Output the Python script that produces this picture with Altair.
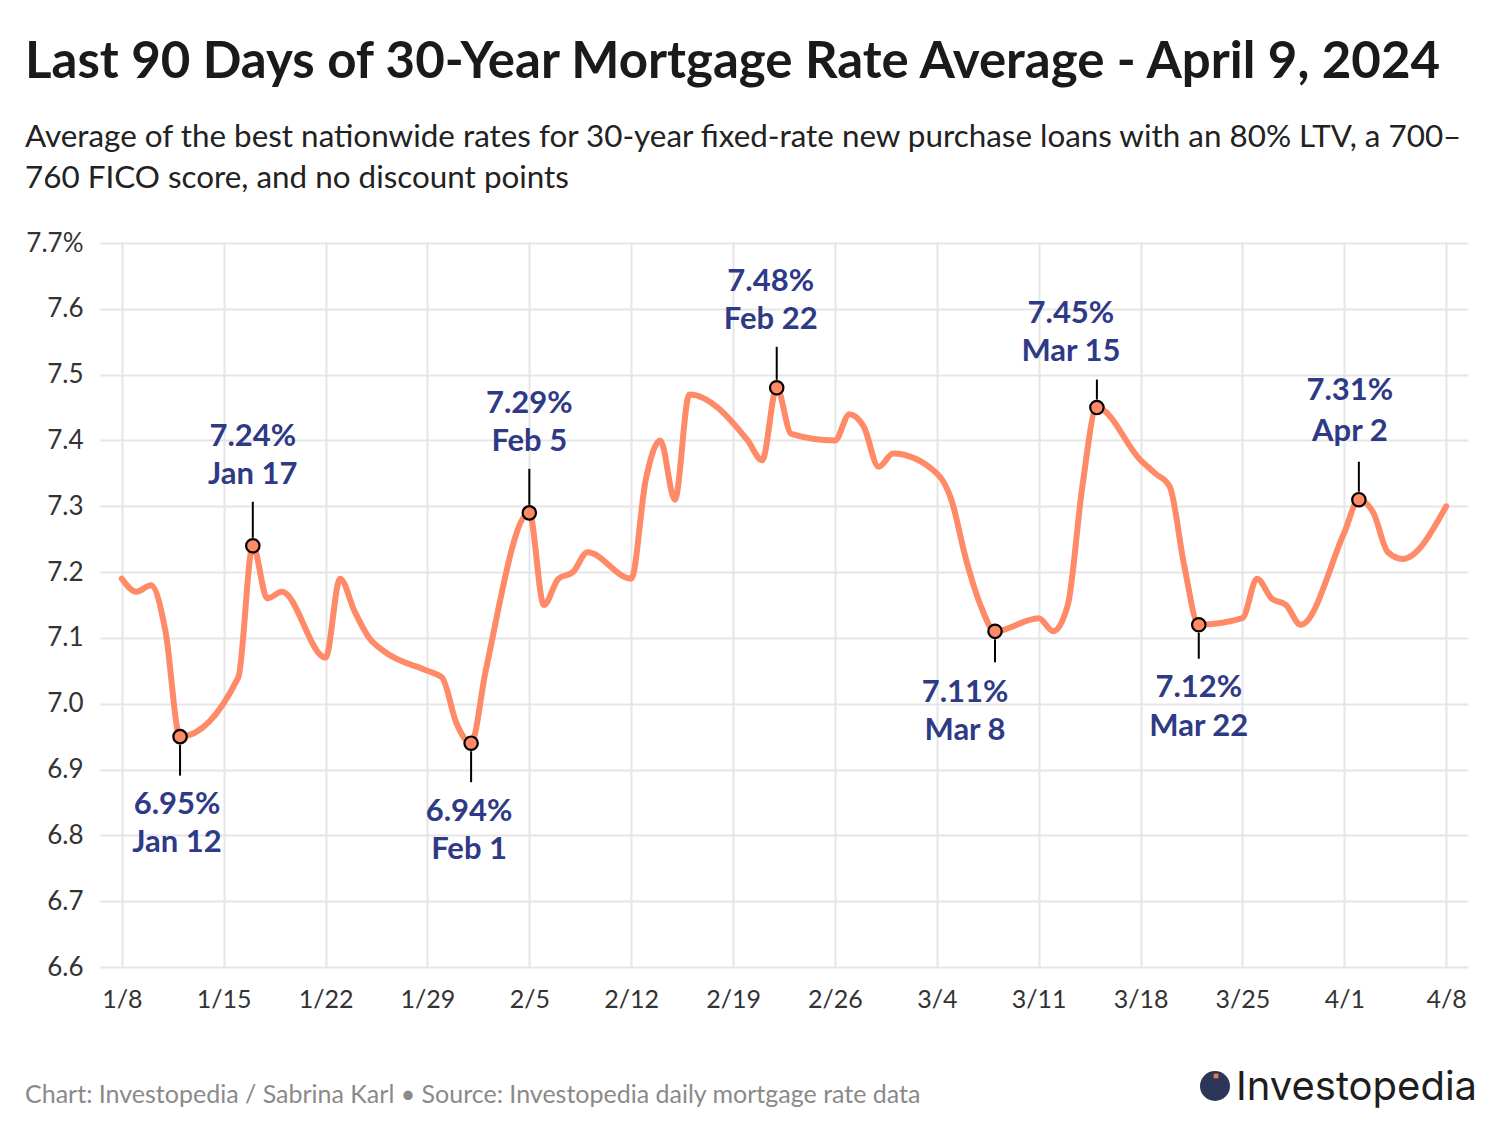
import altair as alt
import pandas as pd

# ---------------- data ----------------
dates = ["2024-01-08","2024-01-09","2024-01-10","2024-01-11","2024-01-12",
         "2024-01-16","2024-01-17","2024-01-18","2024-01-19",
         "2024-01-22","2024-01-23","2024-01-24","2024-01-25","2024-01-26",
         "2024-01-29","2024-01-30","2024-01-31","2024-02-01","2024-02-02",
         "2024-02-05","2024-02-06","2024-02-07","2024-02-08","2024-02-09",
         "2024-02-12","2024-02-13","2024-02-14","2024-02-15","2024-02-16",
         "2024-02-20","2024-02-21","2024-02-22","2024-02-23",
         "2024-02-26","2024-02-27","2024-02-28","2024-02-29","2024-03-01",
         "2024-03-04","2024-03-05","2024-03-06","2024-03-07","2024-03-08",
         "2024-03-11","2024-03-12","2024-03-13","2024-03-14","2024-03-15",
         "2024-03-18","2024-03-19","2024-03-20","2024-03-21","2024-03-22",
         "2024-03-25","2024-03-26","2024-03-27","2024-03-28","2024-03-29",
         "2024-04-01","2024-04-02","2024-04-03","2024-04-04","2024-04-05",
         "2024-04-08"]
rates = [7.19,7.17,7.18,7.11,6.95,
         7.04,7.24,7.16,7.17,
         7.07,7.19,7.14,7.10,7.08,
         7.05,7.04,6.97,6.94,7.05,
         7.29,7.15,7.19,7.20,7.23,
         7.19,7.34,7.40,7.31,7.47,
         7.40,7.37,7.48,7.41,
         7.40,7.44,7.42,7.36,7.38,
         7.35,7.31,7.22,7.15,7.11,
         7.13,7.11,7.15,7.33,7.45,
         7.37,7.35,7.33,7.21,7.12,
         7.13,7.19,7.16,7.15,7.12,
         7.26,7.31,7.29,7.23,7.22,
         7.30]

ann_dates = ["2024-01-12","2024-01-17","2024-02-01","2024-02-05","2024-02-22",
             "2024-03-08","2024-03-15","2024-03-22","2024-04-02"]
ann_rates = [6.95, 7.24, 6.94, 7.29, 7.48, 7.11, 7.45, 7.12, 7.31]
ann_names = ["Jan 12","Jan 17","Feb 1","Feb 5","Feb 22","Mar 8","Mar 15","Mar 22","Apr 2"]

x_ticks = [(1, 8), (1, 15), (1, 22), (1, 29), (2, 5), (2, 12), (2, 19), (2, 26),
           (3, 4), (3, 11), (3, 18), (3, 25), (4, 1), (4, 8)]
y_ticks = [6.6, 6.7, 6.8, 6.9, 7.0, 7.1, 7.2, 7.3, 7.4, 7.5, 7.6, 7.7]

title_text = "Last 90 Days of 30-Year Mortgage Rate Average - April 9, 2024"
subtitle_lines = ["Average of the best nationwide rates for 30-year fixed-rate new purchase loans with an 80% LTV, a 700\u2013",
                  "760 FICO score, and no discount points"]
footer_text = "Chart: Investopedia / Sabrina Karl \u2022 Source: Investopedia daily mortgage rate data"
logo_text = "Investopedia"

# ---------------- styles ----------------
LINE = "#ff8a68"
ANN = "#2f3a87"
GRID = "#e6e6e6"
FONT = "Lato"

df = pd.DataFrame({"date": dates, "rate": rates})
ann = pd.DataFrame({"date": ann_dates, "rate": ann_rates, "name": ann_names})
ann["value"] = ann["rate"].map(lambda v: f"{v:.2f}%")

x_scale = alt.Scale(type="utc", domain=[
    alt.DateTime(year=2024, month=1, date=6, hours=12, utc=True),
    alt.DateTime(year=2024, month=4, date=9, hours=12, utc=True)])
y_scale = alt.Scale(domain=[6.6, 7.7], nice=False, zero=False)

x_axis = alt.Axis(
    values=[alt.DateTime(year=2024, month=m, date=d, utc=True) for m, d in x_ticks],
    labelExpr="utcFormat(datum.value, '%-m/%-d')",
    title=None, domain=False, ticks=False, tickSize=0, labelPadding=20,
    labelFont=FONT, labelFontSize=25, labelColor="#333333",
    grid=True, gridColor=GRID, gridWidth=2)
y_axis = alt.Axis(
    values=y_ticks,
    labelExpr="datum.value > 7.65 ? '7.7%' : format(datum.value, '.1f')",
    title=None, domain=False, ticks=False, tickSize=0, labelPadding=17,
    labelFont=FONT, labelFontSize=26, labelColor="#333333", labelAlign="right",
    grid=True, gridColor=GRID, gridWidth=2)

X = alt.X("date:T", scale=x_scale, axis=x_axis)
Y = alt.Y("rate:Q", scale=y_scale, axis=y_axis)

line = alt.Chart(df).mark_line(
    color=LINE, strokeWidth=6, interpolate="monotone", strokeCap="round", strokeJoin="round"
).encode(x=X, y=Y)

# annotation layout: (rule start, rule end, value dy, date dy, dx)
ann_layout = {
    "Jan 12": (8, 39, 77, 115, -3),
    "Jan 17": (-8, -44, -100, -62, 0),
    "Feb 1": (8, 39, 78, 116, -2),
    "Feb 5": (-8, -44, -100, -62, 0),
    "Feb 22": (-8, -41, -97, -59, -6),
    "Mar 8": (8, 31, 71, 109, -30),
    "Mar 15": (-8, -28, -85, -47, -26),
    "Mar 22": (8, 34, 72, 111, 0),
    "Apr 2": (-8, -38, -100, -59, -9),
}

layers = [line]
for name in ann_names:
    r0, r1, vdy, ddy, dx = ann_layout[name]
    sub = ann[ann["name"] == name]
    base = alt.Chart(sub)
    layers.append(base.mark_rule(color="black", strokeWidth=2, yOffset=r0, y2Offset=r1)
                  .encode(x=X, y=Y, y2="rate:Q"))
    layers.append(base.mark_text(font=FONT, fontSize=31, fontWeight="bold", color=ANN,
                                 align="center", baseline="alphabetic", dy=vdy, dx=dx)
                  .encode(x=X, y=Y, text="value:N"))
    layers.append(base.mark_text(font=FONT, fontSize=31, fontWeight="bold", color=ANN,
                                 align="center", baseline="alphabetic", dy=ddy, dx=dx)
                  .encode(x=X, y=Y, text="name:N"))

points = alt.Chart(ann).mark_point(
    shape="circle", size=180, fill=LINE, stroke="black", strokeWidth=2.2,
    opacity=1, fillOpacity=1
).encode(x=X, y=Y)
layers.append(points)

# footer and logo
foot = alt.Chart(pd.DataFrame({"t": [footer_text]})).mark_text(
    font=FONT, fontSize=25, color="#8a8a8a", align="left", baseline="alphabetic"
).encode(text="t:N", x=alt.value(-75), y=alt.value(860))

logo_icon = alt.Chart(pd.DataFrame({"t": [logo_text]})).mark_point(
    shape="circle", size=900, filled=True, color="#2c3657", opacity=1
).encode(x=alt.value(1115), y=alt.value(843))
logo_dot = alt.Chart(pd.DataFrame({"t": [logo_text]})).mark_point(
    shape="square", size=22, filled=True, color="#f07a4f", opacity=1
).encode(x=alt.value(1116), y=alt.value(833))
logo_word = alt.Chart(pd.DataFrame({"t": [logo_text]})).mark_text(
    font="Inter", fontSize=40, color="#1e1e1e", align="left", baseline="alphabetic"
).encode(text="t:N", x=alt.value(1136), y=alt.value(857))

layers += [foot, logo_icon, logo_dot, logo_word]

chart = alt.layer(*layers).properties(
    width=1368, height=724,
    autosize=alt.AutoSizeParams(type="none"),
    padding={"left": 92, "top": 235, "right": 20, "bottom": 150},
    title=alt.TitleParams(
        text=title_text, subtitle=subtitle_lines,
        anchor="start", frame="group", dx=-75, offset=35,
        font=FONT, fontSize=51, fontWeight="bold", color="#1a1a1a",
        subtitleFont=FONT, subtitleFontSize=31.4, subtitleColor="#222222",
        subtitlePadding=33, subtitleLineHeight=41),
).configure(background="white").configure_view(stroke=None)

chart.save("out.html", embed_options={"renderer": "svg", "actions": False})
